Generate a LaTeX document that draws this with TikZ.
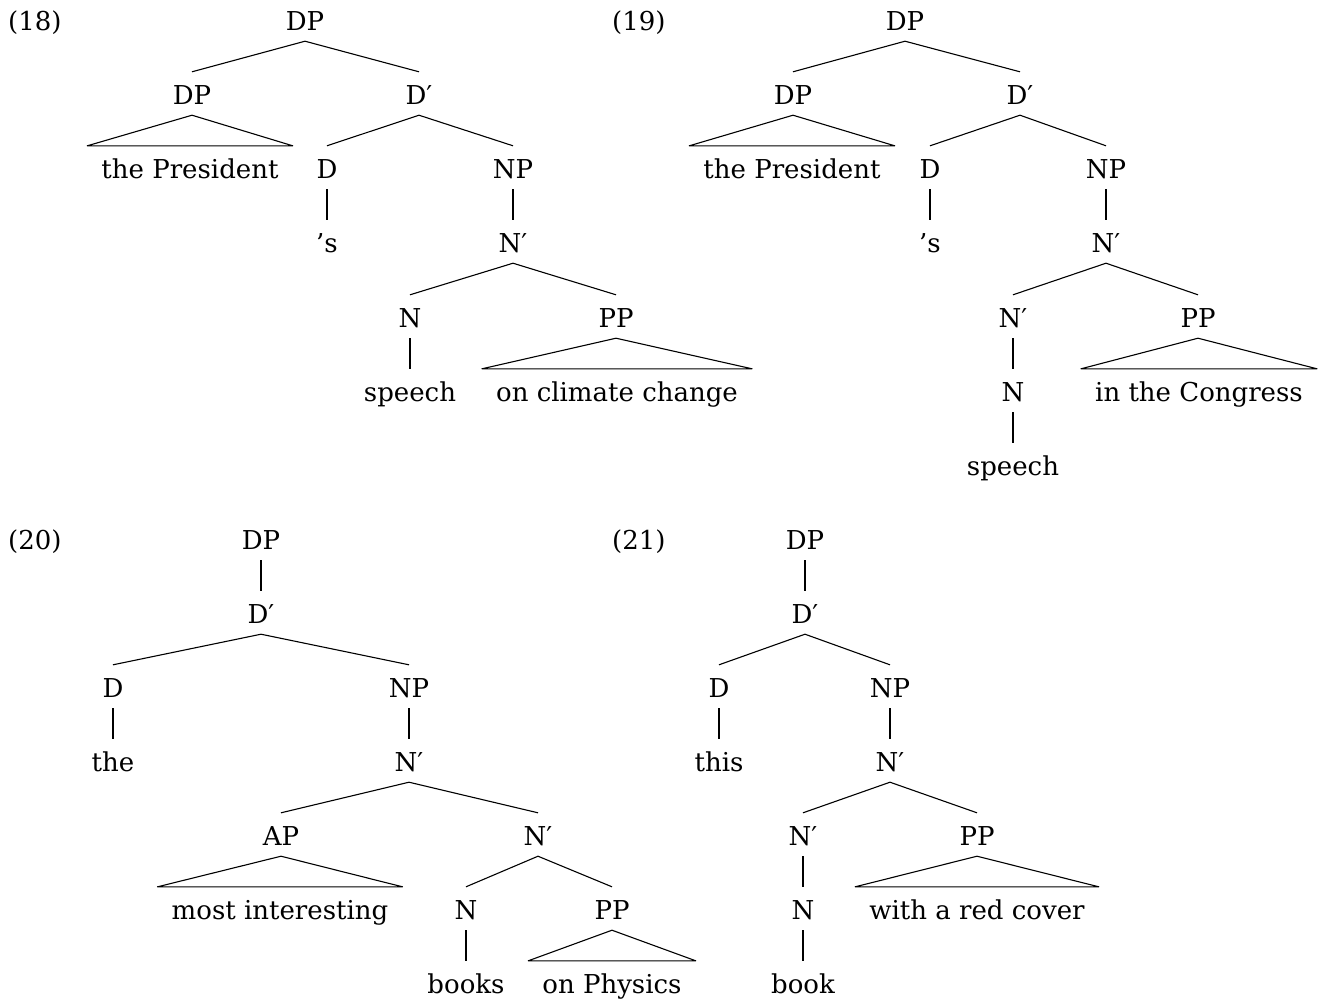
\documentclass[tikz,border=0pt]{standalone}
\usepackage{fontspec}
\setmainfont{DejaVu Serif}
\begin{document}
\begin{tikzpicture}[x=1pt,y=-1pt,
  lab/.style={font=\fontsize{26}{31}\selectfont, inner sep=0pt, anchor=base,
              text height=32pt, text depth=11pt},
  num/.style={font=\fontsize{26}{31}\selectfont, inner sep=0pt, anchor=base west},
  leaf/.style={lab, inner xsep=14pt},
  edge/.style={line width=1.1pt},
  roof/.style={line width=1.1pt, line join=round}]
\useasboundingbox (0,0) rectangle (1326,1002);

% ---------- (18) ----------
\node[num] (n18) at (8,30) {(18)};
\node[lab] (a18) at (305,30) {DP};
\node[lab] (b18) at (192,104) {DP};
\node[lab] (c18) at (419,104) {D′};
\node[leaf] (d18) at (190,178) {the President};
\node[lab] (e18) at (327,178) {D};
\node[lab] (f18) at (513,178) {NP};
\node[lab] (g18) at (327,252) {’s};
\node[lab] (h18) at (513,252) {N′};
\node[lab] (i18) at (410,327) {N};
\node[lab] (j18) at (616,327) {PP};
\node[lab] (k18) at (410,401) {speech};
\node[leaf] (l18) at (617,401) {on climate change};
\draw[edge] (b18.north) -- (a18.south) -- (c18.north);
\draw[roof] (b18.south) -- (d18.north west) -- (d18.north east) -- cycle;
\draw[edge] (e18.north) -- (c18.south) -- (f18.north);
\draw[edge] (e18.south) -- (g18.north);
\draw[edge] (f18.south) -- (h18.north);
\draw[edge] (i18.north) -- (h18.south) -- (j18.north);
\draw[edge] (i18.south) -- (k18.north);
\draw[roof] (j18.south) -- (l18.north west) -- (l18.north east) -- cycle;

% ---------- (19) ----------
\node[num] (n19) at (612,30) {(19)};
\node[lab] (a19) at (905,30) {DP};
\node[lab] (b19) at (793,104) {DP};
\node[lab] (c19) at (1020,104) {D′};
\node[leaf] (d19) at (792,178) {the President};
\node[lab] (e19) at (930,178) {D};
\node[lab] (f19) at (1106,178) {NP};
\node[lab] (g19) at (930,252) {’s};
\node[lab] (h19) at (1106,252) {N′};
\node[lab] (i19) at (1013,327) {N′};
\node[lab] (j19) at (1198,327) {PP};
\node[lab] (k19) at (1013,401) {N};
\node[leaf] (l19) at (1199,401) {in the Congress};
\node[lab] (m19) at (1013,475) {speech};
\draw[edge] (b19.north) -- (a19.south) -- (c19.north);
\draw[roof] (b19.south) -- (d19.north west) -- (d19.north east) -- cycle;
\draw[edge] (e19.north) -- (c19.south) -- (f19.north);
\draw[edge] (e19.south) -- (g19.north);
\draw[edge] (f19.south) -- (h19.north);
\draw[edge] (i19.north) -- (h19.south) -- (j19.north);
\draw[edge] (i19.south) -- (k19.north);
\draw[edge] (k19.south) -- (m19.north);
\draw[roof] (j19.south) -- (l19.north west) -- (l19.north east) -- cycle;

% ---------- (20) ----------
\node[num] (n20) at (8,549) {(20)};
\node[lab] (a20) at (261,549) {DP};
\node[lab] (b20) at (261,623) {D′};
\node[lab] (c20) at (113,697) {D};
\node[lab] (d20) at (409,697) {NP};
\node[lab] (e20) at (113,771) {the};
\node[lab] (f20) at (409,771) {N′};
\node[lab] (g20) at (281,845) {AP};
\node[lab] (h20) at (538,845) {N′};
\node[leaf] (i20) at (280,919) {most interesting};
\node[lab] (j20) at (466,919) {N};
\node[lab] (k20) at (612,919) {PP};
\node[lab] (l20) at (466,993) {books};
\node[leaf] (m20) at (612,993) {on Physics};
\draw[edge] (a20.south) -- (b20.north);
\draw[edge] (c20.north) -- (b20.south) -- (d20.north);
\draw[edge] (c20.south) -- (e20.north);
\draw[edge] (d20.south) -- (f20.north);
\draw[edge] (g20.north) -- (f20.south) -- (h20.north);
\draw[roof] (g20.south) -- (i20.north west) -- (i20.north east) -- cycle;
\draw[edge] (j20.north) -- (h20.south) -- (k20.north);
\draw[edge] (j20.south) -- (l20.north);
\draw[roof] (k20.south) -- (m20.north west) -- (m20.north east) -- cycle;

% ---------- (21) ----------
\node[num] (n21) at (612,549) {(21)};
\node[lab] (a21) at (805,549) {DP};
\node[lab] (b21) at (805,623) {D′};
\node[lab] (c21) at (719,697) {D};
\node[lab] (d21) at (890,697) {NP};
\node[lab] (e21) at (719,771) {this};
\node[lab] (f21) at (890,771) {N′};
\node[lab] (g21) at (803,845) {N′};
\node[lab] (h21) at (977,845) {PP};
\node[lab] (i21) at (803,919) {N};
\node[leaf] (j21) at (977,919) {with a red cover};
\node[lab] (k21) at (803,993) {book};
\draw[edge] (a21.south) -- (b21.north);
\draw[edge] (c21.north) -- (b21.south) -- (d21.north);
\draw[edge] (c21.south) -- (e21.north);
\draw[edge] (d21.south) -- (f21.north);
\draw[edge] (g21.north) -- (f21.south) -- (h21.north);
\draw[edge] (g21.south) -- (i21.north);
\draw[edge] (i21.south) -- (k21.north);
\draw[roof] (h21.south) -- (j21.north west) -- (j21.north east) -- cycle;
\end{tikzpicture}
\end{document}
